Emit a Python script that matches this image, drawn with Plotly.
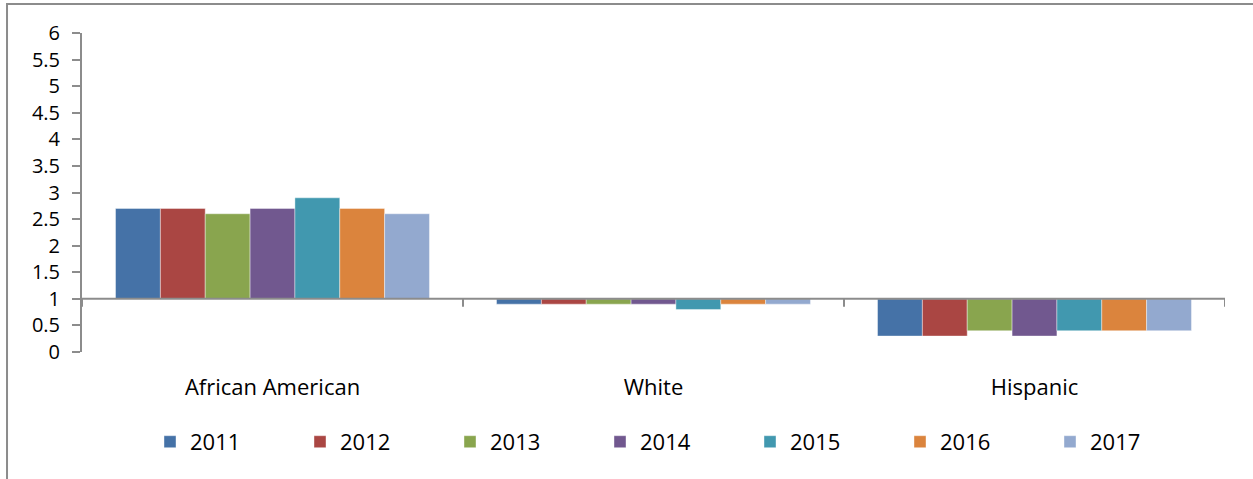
import plotly.graph_objects as go

categories = ["African American", "White", "Hispanic"]
years = ["2011", "2012", "2013", "2014", "2015", "2016", "2017"]
values = {
    "2011": [2.7, 0.9, 0.3],
    "2012": [2.7, 0.9, 0.3],
    "2013": [2.6, 0.9, 0.4],
    "2014": [2.7, 0.9, 0.3],
    "2015": [2.9, 0.8, 0.4],
    "2016": [2.7, 0.9, 0.4],
    "2017": [2.6, 0.9, 0.4],
}
colors = ["#4572A7", "#AA4643", "#89A54E", "#71588F", "#4198AF", "#DB843D", "#93A9CF"]
baseline = 1.0
y_ticks = [0, 0.5, 1, 1.5, 2, 2.5, 3, 3.5, 4, 4.5, 5, 5.5, 6]

FONT = "Open Sans, Lato, sans-serif"
FS = 22

fig = go.Figure()
for yr, col in zip(years, colors):
    vals = values[yr]
    fig.add_trace(go.Bar(
        name=yr, x=categories,
        y=[v - baseline for v in vals],
        base=[baseline] * len(vals),
        marker=dict(color=col, line=dict(color="rgba(255,255,255,0.5)", width=0.8)),
        hovertext=[str(v) for v in vals],
    ))

shapes = [
    dict(type="line", xref="x", yref="y", x0=-0.5, x1=2.5, y0=baseline, y1=baseline,
         line=dict(color="#8c8c8c", width=2), layer="above"),
    dict(type="rect", xref="paper", yref="paper", x0=-0.0656, x1=1.2, y0=-0.6, y1=1.091,
         line=dict(color="#8c8c8c", width=2)),
]
for xt in [-0.5, 0.5, 1.5, 2.5]:
    shapes.append(dict(type="line", xref="x", yref="paper", x0=xt, x1=xt,
                       y0=(baseline / 6) - 0.025, y1=baseline / 6,
                       line=dict(color="#8c8c8c", width=2)))

fig.update_layout(
    width=1253, height=479,
    margin=dict(l=82, r=28, t=33, b=127, autoexpand=False),
    paper_bgcolor="white", plot_bgcolor="white",
    barmode="group", bargap=0.176, bargroupgap=0,
    font=dict(family=FONT, size=FS, color="black"),
    xaxis=dict(showline=False, ticks="", showgrid=False, range=[-0.5, 2.5],
               tickfont=dict(size=FS), ticklabelstandoff=20),
    yaxis=dict(range=[0, 6], tickvals=y_ticks, ticktext=[f"{t:g}" for t in y_ticks],
               showline=True, linecolor="#8c8c8c", linewidth=2,
               ticks="outside", ticklen=8, tickcolor="#8c8c8c", tickwidth=2,
               showgrid=False, zeroline=False, tickfont=dict(size=20),
               ticklabelstandoff=8),
    legend=dict(orientation="h", x=0.0595, xanchor="left", y=-0.216, yanchor="top",
                entrywidth=105, entrywidthmode="pixels", font=dict(size=FS)),
    shapes=shapes,
    showlegend=True,
)
fig.write_html("out.html", config={"displayModeBar": False},
               post_script="document.body.style.margin='0';")
